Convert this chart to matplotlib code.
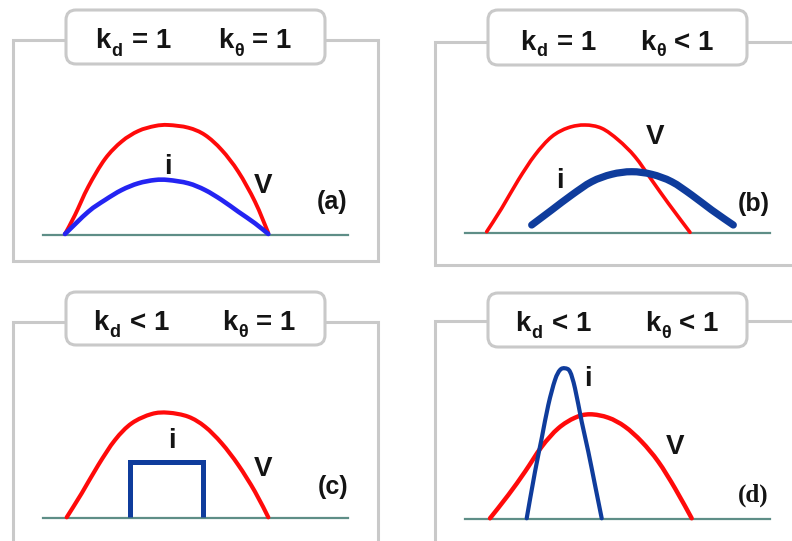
import matplotlib
matplotlib.use("Agg")
import matplotlib.pyplot as plt
from matplotlib.patches import FancyBboxPatch, PathPatch
from matplotlib.path import Path

# ---- panel headings: (subscript, relation) for k_d and k_theta ----
heading_kd = [("d", "= 1"), ("d", "= 1"), ("d", "< 1"), ("d", "< 1")]
heading_kt = [("θ", "= 1"), ("θ", "< 1"), ("θ", "= 1"), ("θ", "< 1")]
panel_tags = ["(a)", "(b)", "(c)", "(d)"]

# ---- waveforms (pixel coordinates of the sketch) ----
# (a) voltage and current in phase, same shape
v_a_x = [65, 75, 88.3, 105, 121.7, 138.3, 155, 168.3, 188.3, 205, 221.7, 238.3, 255, 268.3]
v_a_y = [234, 215, 186.7, 159, 141.5, 131, 126, 125, 127.7, 135, 150, 171.7, 201.7, 233]
i_a_x = [65, 88.3, 105, 121.7, 138.3, 155, 168.3, 188.3, 205, 221.7, 238.3, 255, 268.3]
i_a_y = [234, 211.7, 200, 190, 183.3, 180, 180, 183.3, 190, 200, 211.7, 223.3, 234]

# (b) current lagging the voltage
v_b_x = [486.7, 501.7, 518.3, 535, 551.7, 568.3, 585, 601.7, 618.3, 635, 651.7, 668.3, 690]
v_b_y = [231.7, 208.3, 180, 155, 136.7, 127.7, 125, 128.3, 140, 156.7, 180, 203.3, 232.3]
i_b_x = [531.7, 551.7, 571.7, 591.7, 611.7, 631.7, 651.7, 671.7, 691.7, 711.7, 733.3]
i_b_y = [225, 210, 195, 181.7, 174.3, 171.7, 174.3, 181.7, 195, 210, 225]

# (c) square current pulse inside the voltage half-wave
v_c_x = [66.7, 81.7, 98.3, 115, 131.7, 151.7, 168.3, 188.3, 205, 221.7, 238.3, 255, 268.3]
v_c_y = [517.3, 493.3, 465, 440, 423.3, 414, 412.7, 416.7, 426.7, 443.3, 465, 491.7, 517.3]
i_c_x = [130, 130, 203.3, 203.3]
i_c_y = [517.3, 461.7, 461.7, 517.3]

# (d) narrow, peaky current
v_d_x = [490, 508.3, 525, 541.7, 558.3, 575, 590, 608.3, 625, 641.7, 658.3, 675, 691.7]
v_d_y = [518.3, 495, 471.7, 446.7, 428.3, 417.7, 414.3, 417.7, 426.7, 441.7, 461.7, 488.3, 518.3]
i_d_x = [526.7, 535, 541.7, 548.3, 555, 560, 565, 570, 575, 581.7, 588.3, 595, 601.7]
i_d_y = [518.3, 471.7, 438.3, 405, 380, 370, 368.3, 371.7, 388.3, 421.7, 451.7, 485, 518.3]

RED = "#ff0a0a"
BLUE_A = "#2424f2"
NAVY = "#0f3c9c"
AXIS = "#5e8e87"
FRAME = "#c9c9c9"
INK = "#141414"
SANS = "Liberation Sans"

fig = plt.figure(figsize=(7.92, 5.41), dpi=100)
ax = fig.add_axes([0, 0, 1, 1])
ax.set_xlim(0, 792)
ax.set_ylim(541, 0)
ax.axis("off")


def smooth_curve(xs, ys, color, lw):
    """Draw a smooth Bezier path passing through every given point."""
    pts = list(zip(xs, ys))
    n = len(pts)
    verts = [pts[0]]
    codes = [Path.MOVETO]
    for k in range(n - 1):
        p0 = pts[k - 1] if k > 0 else pts[k]
        p1 = pts[k]
        p2 = pts[k + 1]
        p3 = pts[k + 2] if k + 2 < n else pts[k + 1]
        c1 = (p1[0] + (p2[0] - p0[0]) / 6, p1[1] + (p2[1] - p0[1]) / 6)
        c2 = (p2[0] - (p3[0] - p1[0]) / 6, p2[1] - (p3[1] - p1[1]) / 6)
        verts += [c1, c2, p2]
        codes += [Path.CURVE4] * 3
    patch = PathPatch(Path(verts, codes), fill=False, edgecolor=color, lw=lw,
                      capstyle="round", joinstyle="round", zorder=4)
    ax.add_patch(patch)


def k_heading(x, y, sub, rest, rest_dx):
    """Bold 'k' with a lowered subscript followed by the relation."""
    ax.text(x, y, "k", fontsize=20, fontweight="bold", family=SANS, color=INK,
            ha="left", va="baseline", zorder=3)
    ax.text(x + 16.5, y + 7, sub, fontsize=13, fontweight="bold", family=SANS,
            color=INK, ha="left", va="baseline", zorder=3)
    ax.text(x + rest_dx, y, rest, fontsize=20, fontweight="bold", family=SANS,
            color=INK, ha="left", va="baseline", zorder=3)


# panel layout: frame left/right/top/bottom, heading box, baseline
panels = [
    dict(fl=13, fr=378, ft=40, fb=261, bx0=66, bx1=325, by0=10, by1=64,
         bl_x0=43, bl_x1=348, bl_y=234.5, kd_x=95, kt_x=218, hy=48.5,
         tag_xy=(332.5, 202), tag_font=SANS),
    dict(fl=435, fr=800, ft=42, fb=265, bx0=488, bx1=747, by0=10, by1=65,
         bl_x0=465, bl_x1=770, bl_y=232.5, kd_x=520, kt_x=640, hy=49.5,
         tag_xy=(754, 204), tag_font=SANS),
    dict(fl=13, fr=378, ft=322, fb=560, bx0=66, bx1=325, by0=292, by1=345,
         bl_x0=43, bl_x1=348, bl_y=517.5, kd_x=93, kt_x=222, hy=330,
         tag_xy=(333, 487), tag_font=SANS),
    dict(fl=435, fr=800, ft=321, fb=560, bx0=488, bx1=747, by0=293, by1=347,
         bl_x0=465, bl_x1=770, bl_y=519, kd_x=515, kt_x=645, hy=331,
         tag_xy=(753, 495), tag_font="Liberation Serif"),
]

for k, p in enumerate(panels):
    # open frame whose top edge is interrupted by the heading box
    ax.plot([p["bx0"], p["fl"], p["fl"], p["fr"], p["fr"], p["bx1"]],
            [p["ft"], p["ft"], p["fb"], p["fb"], p["ft"], p["ft"]],
            color=FRAME, lw=2.2, solid_joinstyle="miter", clip_on=False, zorder=1)
    box = FancyBboxPatch((p["bx0"], p["by0"]), p["bx1"] - p["bx0"], p["by1"] - p["by0"],
                         boxstyle="round,pad=0,rounding_size=10",
                         fc="white", ec=FRAME, lw=2.2, zorder=2)
    ax.add_patch(box)
    k_heading(p["kd_x"], p["hy"], heading_kd[k][0], heading_kd[k][1], 37)
    k_heading(p["kt_x"], p["hy"], heading_kt[k][0], heading_kt[k][1], 34)
    # zero line
    ax.plot([p["bl_x0"], p["bl_x1"]], [p["bl_y"], p["bl_y"]], color=AXIS, lw=1.6, zorder=2)
    ax.text(*p["tag_xy"], panel_tags[k], fontsize=18, fontweight="bold",
            family=p["tag_font"], color=INK, ha="center", va="center", zorder=3)

smooth_curve(v_a_x, v_a_y, RED, 2.8)
smooth_curve(i_a_x, i_a_y, BLUE_A, 3.3)
smooth_curve(v_b_x, v_b_y, RED, 2.6)
smooth_curve(i_b_x, i_b_y, NAVY, 5.2)
smooth_curve(v_c_x, v_c_y, RED, 3.0)
ax.plot(i_c_x, i_c_y, color=NAVY, lw=3.6, solid_capstyle="butt",
        solid_joinstyle="miter", zorder=4)
smooth_curve(v_d_x, v_d_y, RED, 3.2)
smooth_curve(i_d_x, i_d_y, NAVY, 3.0)

# curve labels
labels = [("i", 168.3, 167.5), ("V", 263, 186),
          ("V", 655, 137.5), ("i", 560, 181),
          ("i", 171.7, 441), ("V", 263, 469),
          ("i", 588.3, 379), ("V", 675, 447.5)]
for s, x, y in labels:
    ax.text(x, y, s, fontsize=20, fontweight="bold", family=SANS,
            color=INK, ha="center", va="center", zorder=5)

fig.savefig("out.png", dpi=100)
